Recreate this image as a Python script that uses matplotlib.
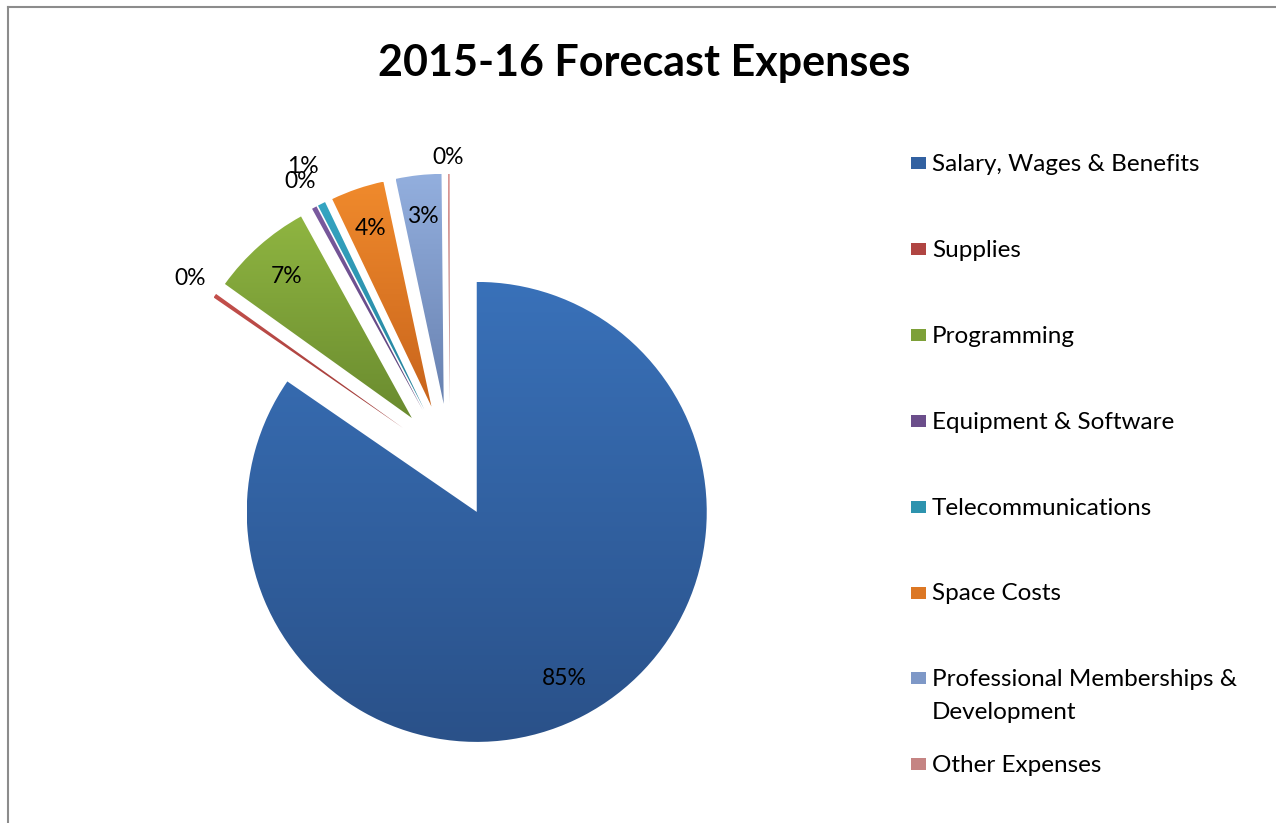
import matplotlib
matplotlib.use('Agg')
import matplotlib.pyplot as plt
import numpy as np
from matplotlib.colors import LinearSegmentedColormap, to_rgb
from matplotlib.patches import Rectangle
from matplotlib.lines import Line2D

plt.rcParams['font.family'] = ['Lato', 'DejaVu Sans']

# 데이터 (퍼센트)
categories = ['Salary, Wages & Benefits', 'Supplies', 'Programming', 'Equipment & Software',
              'Telecommunications', 'Space Costs', 'Professional Memberships &\nDevelopment',
              'Other Expenses']
shares = [84.6, 0.3, 7.1, 0.35, 0.55, 3.75, 3.2, 0.15]
title = '2015-16 Forecast Expenses'

# 색 (위 밝은색, 아래 어두운색) - 엑셀 그라데이션 흉내
top_colors = ['#3971B9', '#C4504C', '#8FB541', '#7B5BA0', '#35A5C2', '#F08A2C', '#93AFDE', '#DA9896']
bottom_colors = ['#2A5189', '#9C3A37', '#6A8B2F', '#5A4076', '#25809A', '#C8641C', '#6881B0', '#B07070']
# 바깥 라벨 거리 (작은 조각만)
outer_dist = [None, 1.13, None, 1.13, 1.18, None, None, 1.07]

W, H = 1276, 823
R = 230.0  # 파이 반지름 (px)
cx, cy = 450.0, 461.0  # 파이 중심 (px)

fig = plt.figure(figsize=(W / 100, H / 100), dpi=100)
ax = fig.add_axes([0, 0, 1, 1])

wedges, _, autotexts = ax.pie(shares, explode=[0.25] * len(shares), startangle=90,
                              counterclock=False, autopct='%1.0f%%', pctdistance=0.82,
                              wedgeprops=dict(linewidth=0, zorder=1),
                              textprops=dict(fontsize=16.5, color='black'))
ax.axis('off')

# 그라데이션 채우기
grad = np.linspace(0, 1, 256).reshape(-1, 1)
for w, t, c1, c2 in zip(wedges, autotexts, top_colors, bottom_colors):
    ext = w.get_path().get_extents()
    cmap = LinearSegmentedColormap.from_list('g', [c1, c2])
    w.set_facecolor('none')
    im = ax.imshow(grad, cmap=cmap, extent=[ext.x0, ext.x1, ext.y0, ext.y1],
                   aspect='auto', origin='upper', zorder=2, interpolation='bilinear')
    im.set_clip_path(w)
    t.set_zorder(5)

# 작은 조각 라벨은 바깥으로
for w, t, d in zip(wedges, autotexts, outer_dist):
    if d is not None:
        ang = np.deg2rad((w.theta1 + w.theta2) / 2)
        x0, y0 = w.center
        t.set_position((x0 + d * np.cos(ang), y0 + d * np.sin(ang)))

ax.set_xlim(-cx / R, (W - cx) / R)
ax.set_ylim(-(H - cy) / R, cy / R)

# 제목
fig.text(644 / W, 1 - 63 / H, title, ha='center', va='center', fontsize=31, fontweight='bold')

# 범례 (직접 그리기)
y_start, y_step = 163, 85.9
for i, (lab, c1, c2) in enumerate(zip(categories, top_colors, bottom_colors)):
    yy = y_start + i * y_step
    mid = tuple((np.array(to_rgb(c1)) + np.array(to_rgb(c2))) / 2)
    fig.patches.append(Rectangle((911 / W, 1 - (yy + 6) / H), 15 / W, 12 / H,
                                 transform=fig.transFigure, facecolor=mid, edgecolor='none'))
    n_extra = lab.count('\n')
    fig.text(932 / W, 1 - (yy + 8 + 33 * n_extra) / H, lab, ha='left', va='baseline',
             fontsize=17.5, linespacing=1.7)

# 테두리
fig.add_artist(Line2D([8 / W, 8 / W], [0, 1 - 7 / H], transform=fig.transFigure,
                      color='#8C8C8C', linewidth=1.5))
fig.add_artist(Line2D([8 / W, 1], [1 - 7 / H, 1 - 7 / H], transform=fig.transFigure,
                      color='#8C8C8C', linewidth=1.5))

fig.savefig('out.png', dpi=100)
